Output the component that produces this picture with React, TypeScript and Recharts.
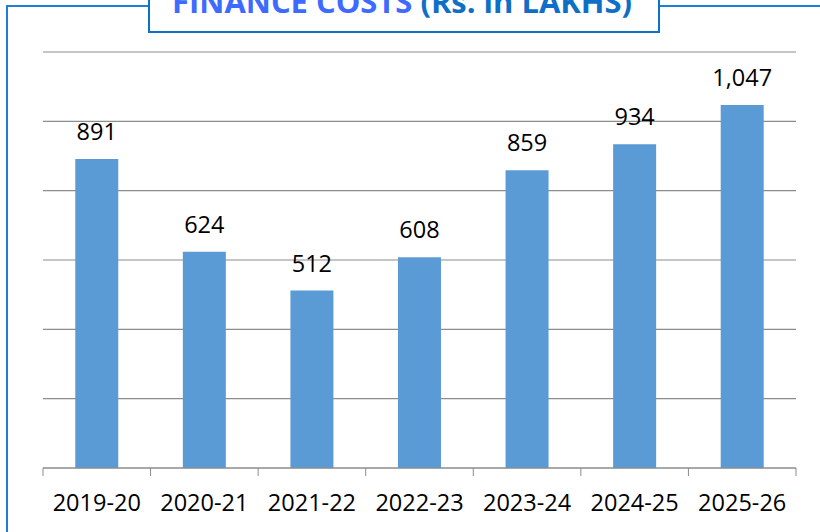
import { BarChart, Bar, XAxis, YAxis, CartesianGrid, LabelList } from 'recharts';

const years = ['2019-20', '2020-21', '2021-22', '2022-23', '2023-24', '2024-25', '2025-26'];
const costs = [891, 624, 512, 608, 859, 934, 1047];
const yTicks = [0, 200, 400, 600, 800, 1000, 1200];

const data = years.map((year, i) => ({ year, value: costs[i] }));

const FONT = '"Open Sans", "Noto Sans", sans-serif';
const MARGIN = { top: 52, right: 24, bottom: 0, left: 43 };
const CHART_W = 820;
const BAND = (CHART_W - MARGIN.left - MARGIN.right) / years.length;
const TICK_GAP = 27;

// category label plus the tick marks on the band edges (as the original draws them)
function YearTick(props: any) {
  const { x, y, payload, index } = props;
  const axisY = y - TICK_GAP;
  const last = index === years.length - 1;
  return (
    <g>
      <line x1={x - BAND / 2} y1={axisY} x2={x - BAND / 2} y2={axisY + 8} stroke="#8c8c8c" />
      {last && <line x1={x + BAND / 2} y1={axisY} x2={x + BAND / 2} y2={axisY + 8} stroke="#8c8c8c" />}
      <text x={x} y={y + 16} textAnchor="middle" fill="#000" fontSize={23.5} fontFamily={FONT}>
        {payload.value}
      </text>
    </g>
  );
}

export default function App() {
  return (
    <div style={{ position: 'absolute', left: 0, top: 0, width: 820, height: 532, overflow: 'hidden', background: '#fff' }}>
      {/* outer frame */}
      <div
        style={{
          position: 'absolute',
          left: 6,
          top: 5,
          width: 900,
          height: 700,
          borderTop: '2px solid #1f7fd4',
          borderLeft: '2px solid #1f7fd4',
        }}
      />
      <div style={{ position: 'absolute', left: 0, top: 0 }}>
        <BarChart width={CHART_W} height={532} data={data} barCategoryGap="30%" margin={MARGIN}>
          <CartesianGrid vertical={false} stroke="#8c8c8c" strokeWidth={1.2} />
          <YAxis hide domain={[0, 1200]} ticks={yTicks} />
          <XAxis
            dataKey="year"
            height={64}
            stroke="#8c8c8c"
            tickLine={false}
            tickSize={0}
            tickMargin={TICK_GAP}
            interval={0}
            tick={<YearTick />}
          />
          <Bar dataKey="value" fill="#5b9bd5" isAnimationActive={false}>
            <LabelList
              dataKey="value"
              position="top"
              offset={19}
              formatter={(v: any) => Number(v).toLocaleString('en-US')}
              style={{ fill: '#000', fontSize: 23.5, fontFamily: FONT }}
            />
          </Bar>
        </BarChart>
      </div>
      {/* title box */}
      <div
        style={{
          position: 'absolute',
          left: 148,
          top: -20,
          width: 508,
          height: 49,
          border: '2px solid #0b72c6',
          background: '#fff',
        }}
      />
      <svg width={820} height={40} style={{ position: 'absolute', left: 0, top: 0 }}>
        <text
          x={172}
          y={13}
          textLength={460}
          lengthAdjust="spacingAndGlyphs"
          style={{ fontFamily: FONT, fontWeight: 700, fontSize: 30 }}
        >
          <tspan fill="#3d6bff">FINANCE COSTS </tspan>
          <tspan fill="#0f6fc6">(Rs. in LAKHS)</tspan>
        </text>
      </svg>
    </div>
  );
}
